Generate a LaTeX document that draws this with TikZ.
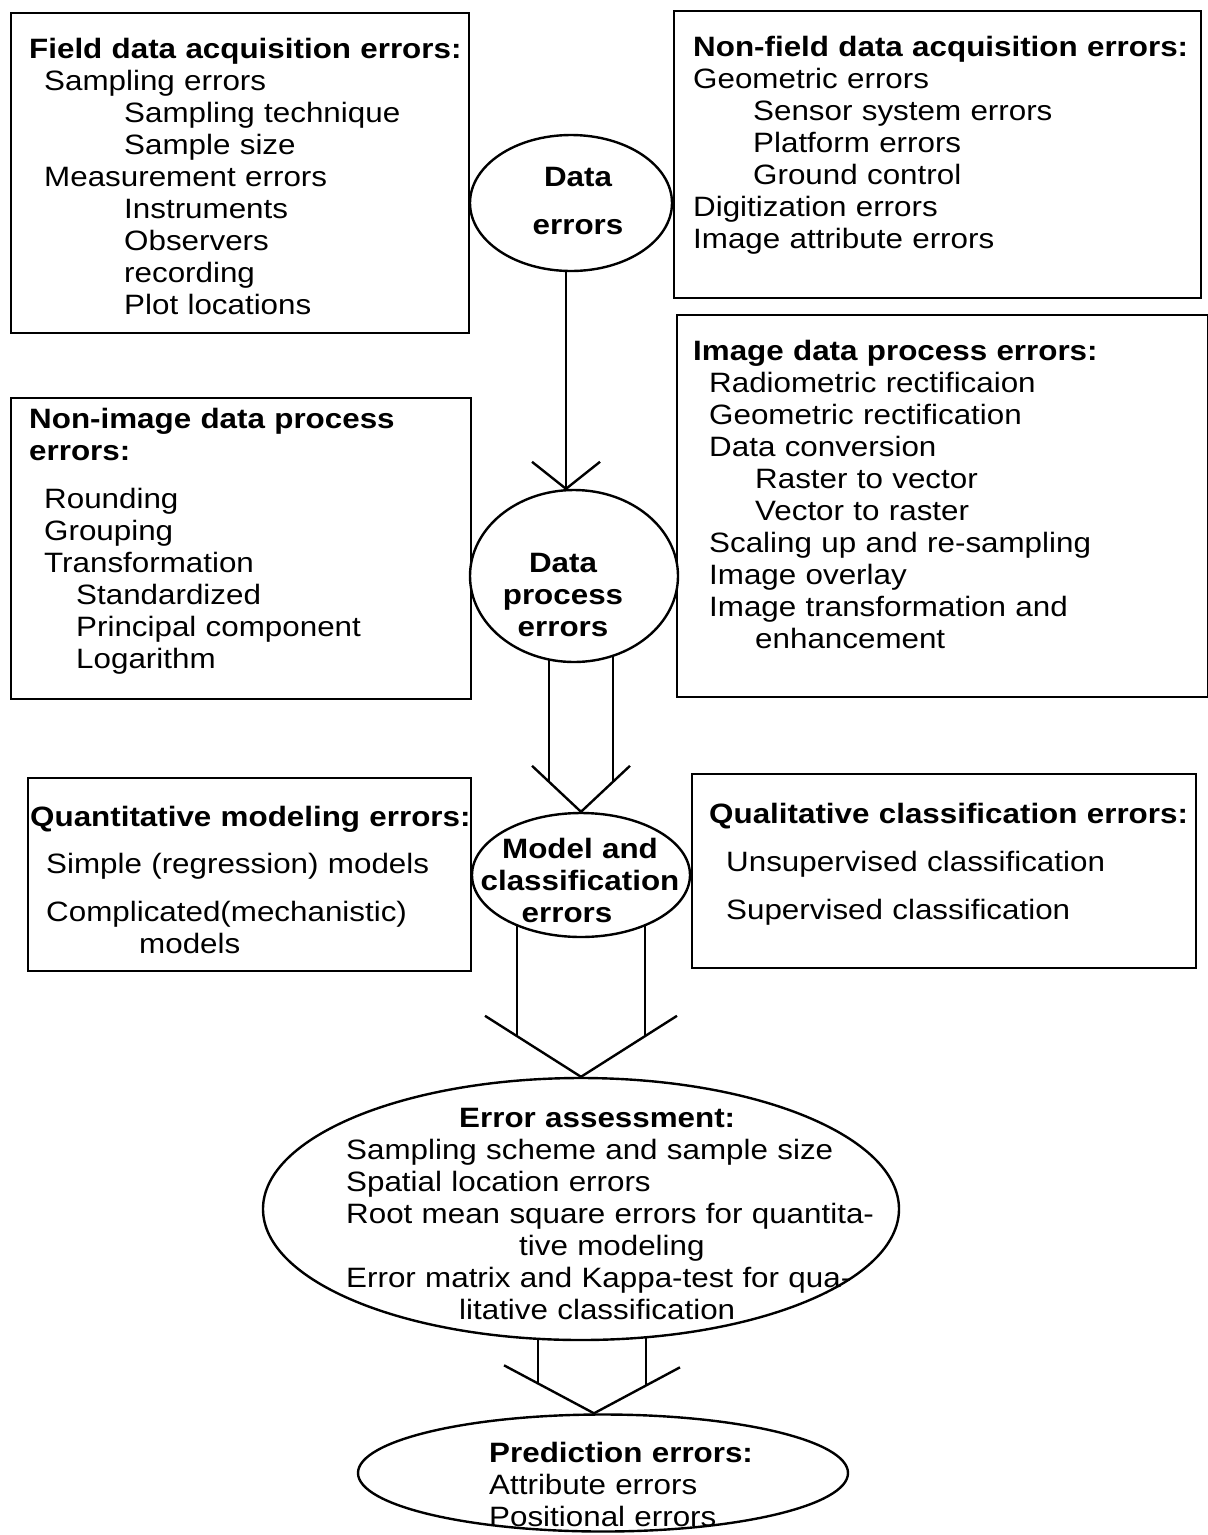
\documentclass[tikz,border=0pt]{standalone}
\usepackage{fontspec}
\setmainfont{Liberation Sans}[FakeStretch=1.12]
\usetikzlibrary{shapes.geometric,calc,backgrounds}

\begin{document}
\begin{tikzpicture}[x=1pt,y=-1pt,line width=2.4pt,
  errbox/.style={draw,rectangle,anchor=north west,inner sep=0pt},
  errell/.style={draw,ellipse,fill=white,inner sep=0pt},
  flow/.style={line width=2.4pt},
  txt/.style={anchor=base west,inner sep=0pt,text width=560pt,align=left,font=\fontsize{28}{32}\selectfont},
  ctxt/.style={anchor=base,inner sep=0pt,text width=260pt,align=center,font=\fontsize{28}{32}\selectfont\bfseries}]
\useasboundingbox (0,0) rectangle (1208,1535);
%boxes
\node[errbox,minimum width=458pt,minimum height=320pt] (field) at (10,12) {};
\node[errbox,minimum width=527pt,minimum height=287pt] (nonfield) at (673,10) {};
\node[errbox,minimum width=460pt,minimum height=301pt] (nonimage) at (10,397) {};
\node[errbox,minimum width=531pt,minimum height=382pt] (imgproc) at (676,314) {};
\node[errbox,minimum width=443pt,minimum height=193pt] (quant) at (27,777) {};
\node[errbox,minimum width=504pt,minimum height=194pt] (qual) at (691,773) {};
%ellipses
\node[errell,minimum width=202pt,minimum height=136pt] (de) at (571,203) {};
\node[errell,minimum width=208pt,minimum height=172pt] (dp) at (574,576) {};
\node[errell,minimum width=218pt,minimum height=124pt] (mc) at (581,875) {};
\node[errell,minimum width=636pt,minimum height=262pt] (ea) at (581,1209) {};
\node[errell,minimum width=490pt,minimum height=117pt] (pe) at (603,1473) {};
%Text
\node[txt] (fieldtxt) at (28,58) {{\bfseries Field data acquisition errors:}\\
  \hspace*{15pt}Sampling errors\\
  \hspace*{95pt}Sampling technique\\
  \hspace*{95pt}Sample size\\
  \hspace*{15pt}Measurement errors\\
  \hspace*{95pt}Instruments\\
  \hspace*{95pt}Observers\\
  \hspace*{95pt}recording\\
  \hspace*{95pt}Plot locations};
\node[txt] (nonfieldtxt) at (692,56) {{\bfseries Non-field data acquisition errors:}\\
  Geometric errors\\
  \hspace*{60pt}Sensor system errors\\
  \hspace*{60pt}Platform errors\\
  \hspace*{60pt}Ground control\\
  Digitization errors\\
  Image attribute errors};
\node[txt] (nonimagetxt) at (28,428) {{\bfseries Non-image data process\\ errors:}\\[16pt]
  \hspace*{15pt}Rounding\\
  \hspace*{15pt}Grouping\\
  \hspace*{15pt}Transformation\\
  \hspace*{47pt}Standardized\\
  \hspace*{47pt}Principal component\\
  \hspace*{47pt}Logarithm};
\node[txt] (imgproctxt) at (692,360) {{\bfseries Image data process errors:}\\
  \hspace*{16pt}Radiometric rectificaion\\
  \hspace*{16pt}Geometric rectification\\
  \hspace*{16pt}Data conversion\\
  \hspace*{62pt}Raster to vector\\
  \hspace*{62pt}Vector to raster\\
  \hspace*{16pt}Scaling up and re-sampling\\
  \hspace*{16pt}Image overlay\\
  \hspace*{16pt}Image transformation and\\
  \hspace*{62pt}enhancement};
\node[txt] (quanttxt) at (29,826) {{\bfseries Quantitative modeling errors:}\\[15pt]
  \hspace*{16pt}Simple (regression) models\\[16pt]
  \hspace*{16pt}Complicated(mechanistic)\\
  \hspace*{109pt}models};
\node[txt] (qualtxt) at (708,823) {{\bfseries Qualitative classification errors:}\\[16pt]
  \hspace*{17pt}Unsupervised classification\\[16pt]
  \hspace*{17pt}Supervised classification};
\node[ctxt] (detxt) at (578,186) {Data\\[16pt] errors};
\node[ctxt] (dptxt) at (563,572) {Data\\ process\\ errors};
\node[ctxt] (mctxt) at (580,858) {Model and\\ classification\\ errors\hspace*{26pt}\mbox{}};
\node[txt] (eatxt) at (345,1127) {\hspace*{113pt}{\bfseries Error assessment:}\\
  Sampling scheme and sample size\\
  Spatial location errors\\
  Root mean square errors for quantita-\\
  \hspace*{173pt}tive modeling\\
  Error matrix and Kappa-test for qua-\\
  \hspace*{113pt}litative classification};
\node[txt] (petxt) at (488,1462) {{\bfseries Prediction errors:}\\
  Attribute errors\\
  Positional errors};
%arrows
\begin{scope}[on background layer]
\coordinate (a1) at ($(dp.north)+(-8,0)$);
\draw[flow] (a1 |- de.center) -- (a1);
\draw[flow] ($(a1)+(-34,-27)$) -- (a1) -- ($(a1)+(34,-27)$);
\coordinate (a2l) at ($(mc.north)+(-32,-30)$);
\coordinate (a2r) at ($(mc.north)+(32,-30)$);
\draw[flow] (a2l |- dp.center) -- (a2l) (a2r |- dp.center) -- (a2r);
\draw[flow] ($(mc.north)+(-49,-46)$) -- (mc.north) -- ($(mc.north)+(49,-46)$);
\coordinate (a3l) at ($(ea.north)+(-64,-41)$);
\coordinate (a3r) at ($(ea.north)+(64,-41)$);
\draw[flow] (a3l |- mc.center) -- (a3l) (a3r |- mc.center) -- (a3r);
\draw[flow] ($(ea.north)+(-96,-61)$) -- (ea.north) -- ($(ea.north)+(96,-61)$);
\coordinate (a4) at ($(pe.north)+(-9,0)$);
\coordinate (a4l) at ($(a4)+(-56,-30)$);
\coordinate (a4r) at ($(a4)+(52,-28)$);
\draw[flow] (a4l |- ea.center) -- (a4l) (a4r |- ea.center) -- (a4r);
\draw[flow] ($(a4)+(-90,-48)$) -- (a4) -- ($(a4)+(86,-46)$);
\end{scope}
\end{tikzpicture}
\end{document}
